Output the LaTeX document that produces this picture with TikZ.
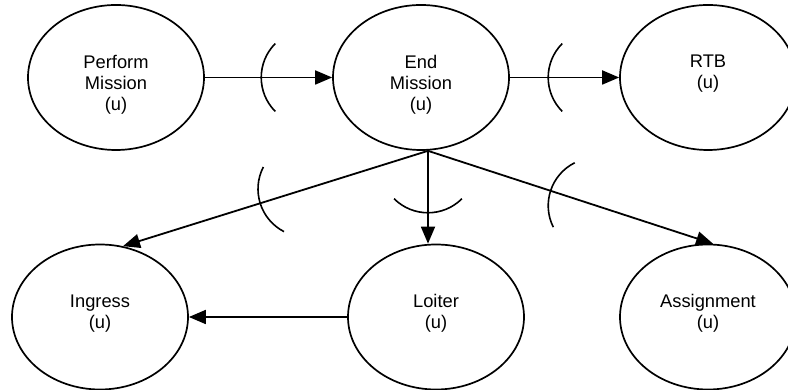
\documentclass[tikz,border=0pt]{standalone}
\usepackage{fontspec}
\setmainfont{Liberation Sans}
\usetikzlibrary{arrows.meta}
\usetikzlibrary{shapes.geometric}
\newcommand{\statetext}[1]{\parbox[c][45pt][t]{120pt}{\centering #1}}

\begin{document}
\begin{tikzpicture}[x=1pt, y=1pt,
					state/.style={draw, ellipse, line width=1.7pt, minimum width=176pt, minimum height=145pt, inner sep=0pt, font=\fontsize{18.3}{21}\selectfont},
					conn/.style={line width=1.8pt, -{Triangle[length=17pt, width=14pt]}},
					bar/.style={line width=1.6pt},
				]
					\useasboundingbox (0,0) rectangle (788,390);
					
					\node[state] (perform) at (116,312.5) {\statetext{Perform\\Mission\\(u)}};
					\node[state] (endm) at (421,312.5) {\statetext{End\\Mission\\(u)}};
					\node[state] (rtb) at (708,312.5) {\statetext{RTB\\(u)}};
					\node[state] (ingress) at (100,73) {\statetext{Ingress\\(u)}};
					\node[state] (loiter) at (436,73) {\statetext{Loiter\\(u)}};
					\node[state] (assign) at (708,73) {\statetext{Assignment\\(u)}};
					
					\coordinate (fork) at ([xshift=7pt]endm.south);
					
					\draw[conn] (perform) -- coordinate[pos=.82] (m1) (endm);
					\draw[conn] (endm) -- coordinate[pos=.79] (m2) (rtb);
					\draw[conn] (fork) -- coordinate[pos=.4] (m3) (ingress.72);
					\draw[conn] (fork) -- coordinate[pos=.15] (m4) (fork |- loiter.north);
					\draw[conn] (fork) -- coordinate[pos=.59] (m5) (assign.86);
					\draw[conn] (loiter) -- (ingress);
					
					% arcs across the connectors
					\draw[bar] ([shift={(135:48pt)}]m1) arc[start angle=135, delta angle=90, radius=48pt];
					\draw[bar] ([shift={(135:48pt)}]m2) arc[start angle=135, delta angle=90, radius=48pt];
					\draw[bar] ([shift={(152.7:48pt)}]m3) arc[start angle=152.7, delta angle=90, radius=48pt];
					\draw[bar] ([shift={(225:48pt)}]m4) arc[start angle=225, delta angle=90, radius=48pt];
					\draw[bar] ([shift={(116.6:48pt)}]m5) arc[start angle=116.6, delta angle=90, radius=48pt];
				\end{tikzpicture}
\end{document}
